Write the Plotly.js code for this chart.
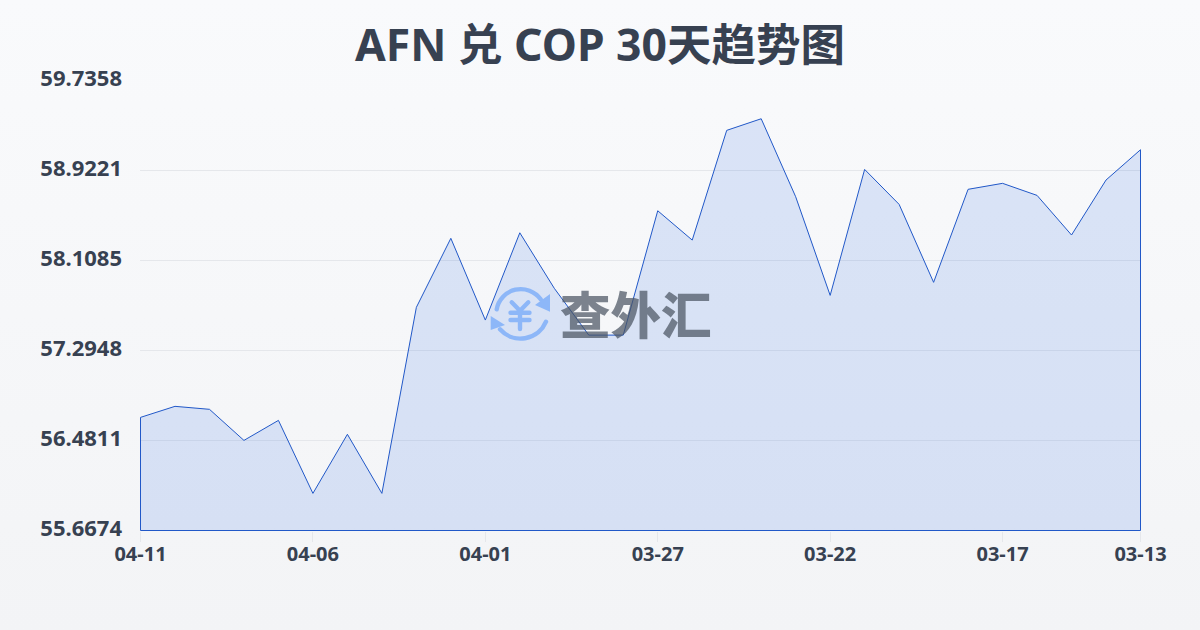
<!DOCTYPE html>
<html>
<head>
<meta charset="utf-8">
<script src="https://cdn.plot.ly/plotly-3.0.1.min.js"></script>
<style>
html,body{margin:0;padding:0;width:1200px;height:630px;overflow:hidden;background:linear-gradient(180deg,#f9fafc 0%,#f3f4f6 100%);}
#chart{width:1200px;height:630px;}
</style>
</head>
<body>
<div id="chart"></div>
<script>
const chartTitle = 'AFN 兑 COP 30天趋势图';
const watermark = '查外汇';
const dates = ['04-11','04-10','04-09','04-08','04-07','04-06','04-05','04-04','04-03','04-02',
  '04-01','03-31','03-30','03-29','03-28','03-27','03-26','03-25','03-24','03-23',
  '03-22','03-21','03-20','03-19','03-18','03-17','03-16','03-15','03-14','03-13'];
const rates = [56.690,56.790,56.763,56.482,56.663,56.003,56.537,56.003,57.685,58.309,
  57.570,58.359,57.857,57.434,57.434,58.558,58.293,59.285,59.390,58.685,
  57.793,58.932,58.616,57.911,58.752,58.806,58.697,58.339,58.836,59.110];
const xTicks = ['04-11','04-06','04-01','03-27','03-22','03-17','03-13'];
const yTickLabels = ['55.6674','56.4811','57.2948','58.1085','58.9221','59.7358'];
const yTicks = yTickLabels.map(Number);
const baseline = yTicks[0];
const top_ = yTicks[yTicks.length-1];

// half a pixel of padding so that the 1px outline falls on whole pixel rows
const yPad = (top_ - baseline) / 900;
const xPad = (dates.length - 1) / 2000;
const plotW = 1001, plotH = 451, plotL = 140, plotB = 531;

const latin = '"Noto Sans","Noto Sans CJK SC",sans-serif';
const ink = '#374151';

const icon = `<svg xmlns="http://www.w3.org/2000/svg" viewBox="0 0 60 60" width="60" height="60">
<g fill="none" stroke="#8db7f8" stroke-width="4.4" stroke-linecap="round" stroke-linejoin="round">
<path d="M6.7 25.3A24.5 24.5 0 0 1 50.7 15.3"/>
<path d="M56 37.7A27.5 27.5 0 0 1 10 45.3"/>
<path d="M21.7 18.3L30 26.7L38.3 18.3M20.5 28.7H39.5M20.5 36H39.5M30 26.7V45"/>
</g>
<path d="M60 10V27.7L45 21Z M0.7 32V46L15 41Z" fill="#8db7f8"/>
</svg>`;

const trace = {
  type: 'scatter',
  mode: 'lines',
  x: [dates[0], ...dates, dates[dates.length-1], dates[0]],
  y: [baseline, ...rates, baseline, baseline],
  fill: 'toself',
  fillcolor: 'rgba(37,99,225,0.14)',
  line: {color: '#2158c8', width: 1},
  cliponaxis: false,
  hoverinfo: 'skip',
  showlegend: false
};

const layout = {
  width: 1200, height: 630,
  margin: {l: plotL, r: 1200-plotL-plotW, t: plotB-plotH, b: 630-plotB, pad: 0},
  paper_bgcolor: 'rgba(0,0,0,0)',
  plot_bgcolor: 'rgba(0,0,0,0)',
  showlegend: false,
  title: {text: chartTitle, x: 0.5, xanchor: 'center', y: 1-45/630, yanchor: 'middle',
    font: {family: latin, size: 44.5, color: ink, weight: 700}},
  xaxis: {
    type: 'category', categoryorder: 'array', categoryarray: dates,
    range: [-xPad, dates.length-1+xPad],
    tickmode: 'array', tickvals: xTicks, ticktext: xTicks,
    showgrid: false, zeroline: false, showline: false,
    ticks: 'outside', ticklen: 10, tickwidth: 1, tickcolor: '#e5e7eb',
    tickangle: 0,
    ticklabelstandoff: -5,
    tickfont: {family: latin, size: 20, color: ink, weight: 700}
  },
  yaxis: {
    range: [baseline-yPad, top_+yPad],
    tickmode: 'array', tickvals: yTicks, ticktext: yTickLabels,
    showgrid: true, gridcolor: '#e5e7eb', gridwidth: 1,
    zeroline: false, showline: false, ticks: '',
    ticklabelstandoff: 17,
    ticklabelshift: -2,
    tickfont: {family: latin, size: 22, color: ink, weight: 700}
  },
  images: [{
    source: 'data:image/svg+xml;charset=utf-8,' + encodeURIComponent(icon),
    xref: 'paper', yref: 'paper', x: (490-plotL)/plotW, y: (plotB-284)/plotH, sizex: 60/plotW, sizey: 60/plotH,
    xanchor: 'left', yanchor: 'top', sizing: 'stretch', layer: 'above'
  }],
  annotations: [{
    text: watermark, xref: 'paper', yref: 'paper', x: (636-plotL)/plotW, y: (plotB-312)/plotH,
    xanchor: 'center', yanchor: 'middle', showarrow: false,
    font: {family: '"Noto Sans CJK SC",sans-serif', size: 50.5, color: 'rgba(75,85,99,0.72)', weight: 900}
  }]
};

Plotly.newPlot('chart', [trace], layout, {displayModeBar: false, staticPlot: true});
</script>
</body>
</html>
